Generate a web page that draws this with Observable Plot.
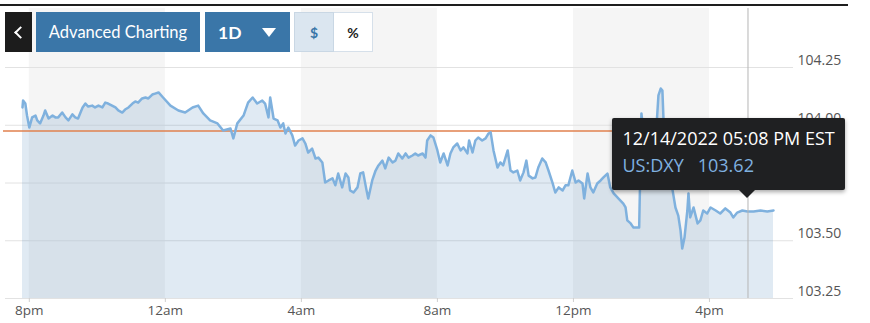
<!DOCTYPE html>
<html>
<head>
<meta charset="utf-8">
<script src="https://cdn.jsdelivr.net/npm/d3@7"></script>
<script src="https://cdn.jsdelivr.net/npm/@observablehq/plot@0.6"></script>
<style>
  html, body { margin: 0; padding: 0; background: #fff; }
  #wrap { position: relative; width: 870px; height: 323px; overflow: hidden; font-family: "Open Sans", sans-serif; }
  #chart { position: absolute; left: 0; top: 0; }
  .topline { position: absolute; left: 0; top: 4px; width: 848px; height: 2px; background: #1e1e1e; }
  .btn { position: absolute; top: 12px; height: 40px; box-sizing: border-box; display: flex; align-items: center; justify-content: center; font-family: Lato, sans-serif; font-size: 16.5px; color: #fff; }
  .back { left: 5px; width: 27px; background: #1c1c1c; }
  .back .chev { width: 7px; height: 7px; border-left: 2px solid #fff; border-bottom: 2px solid #fff; transform: rotate(45deg); margin-left: 4px; }
  .adv { left: 36px; width: 164px; background: #3a76a8; }
  .range { left: 205px; width: 85px; background: #3a76a8; font-weight: 700; font-size: 17.5px; justify-content: flex-start; padding-left: 13px; }
  .range .caret { position: absolute; left: 57px; top: 16px; width: 0; height: 0; border-left: 7px solid transparent; border-right: 7px solid transparent; border-top: 9px solid #fff; }
  .usd { left: 294px; width: 40px; background: #dbe6f0; border: 1px solid #c9d7e4; color: #3a76a8; font-weight: 700; font-size: 14px; }
  .pct { left: 334px; width: 39px; background: #fff; border: 1px solid #d6e0ea; border-left: none; color: #222; font-weight: 700; font-size: 14px; }
  #tip { position: absolute; top: 118px; width: 233px; height: 72px; background: #1f2022; box-shadow: 0 2px 4px rgba(0,0,0,0.35); border-radius: 2px; font-family: "Open Sans", sans-serif; }
  #tip .l1 { position: absolute; left: 10px; top: 8px; color: #fff; font-size: 18px; white-space: nowrap; }
  #tip .l2 { position: absolute; left: 10px; top: 35px; color: #7fb1e0; font-size: 18px; white-space: nowrap; }
  #tip .l2 span { margin-left: 14px; }
  #tip .arrow { position: absolute; bottom: -8px; width: 0; height: 0; border-left: 8px solid transparent; border-right: 8px solid transparent; border-top: 8px solid #1f2022; }
</style>
</head>
<body>
<div id="wrap">
  <div id="chart"></div>
  <div class="topline"></div>
  <div class="btn back"><div class="chev"></div></div>
  <div class="btn adv">Advanced Charting</div>
  <div class="btn range">1D<div class="caret"></div></div>
  <div class="btn usd">$</div>
  <div class="btn pct">%</div>
  <div id="tip"><div class="l1"></div><div class="l2"></div><div class="arrow"></div></div>
</div>
<script>
// ---- data (US:DXY, 1 day, 12/13/2022 evening to 12/14/2022) ----
const times = ["19:48","19:49","19:53","19:56","20:00","20:05","20:11","20:14","20:19","20:25","20:28","20:34","20:41","20:46","20:51","20:58","21:04","21:09","21:16","21:21","21:26","21:34","21:39","21:44","21:51","21:56","22:02","22:09","22:14","22:19","22:26","22:32","22:37","22:44","22:49","22:55","23:02","23:07","23:12","23:19","23:25","23:30","23:37","23:42","23:48","23:56","00:09","00:23","00:35","00:48","00:58","01:07","01:19","01:32","01:42","01:55","02:00","02:07","02:18","02:26","02:34","02:42","02:51","02:56","03:02","03:05","03:11","03:18","03:23","03:28","03:32","03:37","03:44","03:49","03:55","04:02","04:07","04:12","04:19","04:25","04:30","04:37","04:42","04:48","04:55","05:00","05:05","05:12","05:18","05:23","05:26","05:32","05:39","05:44","05:49","05:55","05:58","06:05","06:11","06:16","06:23","06:28","06:34","06:41","06:46","06:51","06:58","07:04","07:09","07:16","07:21","07:26","07:34","07:39","07:42","07:48","07:53","08:00","08:05","08:11","08:18","08:23","08:28","08:35","08:41","08:46","08:53","08:56","09:02","09:07","09:12","09:19","09:25","09:30","09:34","09:39","09:46","09:51","09:56","10:04","10:09","10:14","10:21","10:26","10:32","10:37","10:41","10:48","10:53","10:58","11:05","11:11","11:16","11:23","11:28","11:34","11:41","11:46","11:51","11:58","12:04","12:09","12:16","12:19","12:25","12:30","12:35","12:42","12:48","12:53","13:00","13:05","13:11","13:18","13:23","13:28","13:32","13:35","13:41","13:46","13:53","13:56","14:00","14:07","14:16","14:25","14:30","14:34","14:37","14:41","14:48","14:55","15:00","15:05","15:09","15:12","15:16","15:21","15:23","15:26","15:32","15:39","15:44","15:49","15:56","16:02","16:11","16:19","16:28","16:37","16:42","16:49","16:58","17:07","17:18","17:30","17:42","17:53"];
const prices = [104.077,104.107,104.094,104.042,103.990,104.034,104.042,104.021,104.008,104.042,104.064,104.029,104.042,104.034,104.034,104.055,104.034,104.021,104.047,104.034,104.029,104.077,104.094,104.081,104.085,104.077,104.085,104.077,104.098,104.094,104.085,104.077,104.064,104.055,104.068,104.077,104.094,104.103,104.098,104.116,104.120,104.116,104.133,104.137,104.142,104.120,104.085,104.064,104.055,104.077,104.085,104.051,104.021,104.008,103.977,103.986,103.943,104.008,104.042,104.098,104.120,104.094,104.107,104.094,104.034,104.120,104.029,104.021,103.990,104.008,103.964,103.990,103.956,103.912,103.934,103.943,103.921,103.882,103.899,103.856,103.860,103.839,103.752,103.761,103.770,103.740,103.791,103.731,103.791,103.774,103.718,103.709,103.731,103.791,103.796,103.718,103.683,103.761,103.804,103.826,103.847,103.813,103.860,103.839,103.847,103.878,103.856,103.878,103.860,103.869,103.878,103.869,103.878,103.860,103.934,103.956,103.947,103.891,103.839,103.878,103.826,103.878,103.904,103.921,103.891,103.904,103.878,103.934,103.882,103.934,103.947,103.934,103.943,103.964,103.969,103.891,103.817,103.839,103.826,103.891,103.804,103.796,103.804,103.761,103.796,103.847,103.782,103.770,103.774,103.817,103.856,103.839,103.804,103.752,103.709,103.731,103.718,103.740,103.740,103.804,103.752,103.761,103.748,103.683,103.791,103.731,103.709,103.748,103.761,103.774,103.791,103.731,103.705,103.687,103.674,103.661,103.644,103.588,103.575,103.557,103.557,103.557,104.051,103.891,103.912,103.934,104.129,104.159,104.150,103.891,103.782,103.718,103.644,103.609,103.544,103.466,103.514,103.631,103.705,103.601,103.644,103.575,103.588,103.631,103.618,103.644,103.631,103.618,103.640,103.622,103.601,103.622,103.631,103.627,103.627,103.631,103.627,103.631];
const previousClose = 103.975;
const yTicks = [103.25, 103.50, 103.75, 104.00, 104.25];
const xTickTimes = ["20:00","00:00","04:00","08:00","12:00","16:00"];
const xTickLabels = ["8pm","12am","4am","8am","12pm","4pm"];
const bandStarts = ["20:00","04:00","12:00"]; // shaded 4-hour sessions
const bandHours = 4;
const cursorTime = "17:08";
const cursorLabel = "12/14/2022 05:08 PM EST";
const cursorSymbol = "US:DXY";
const cursorValue = 103.62;

// ---- helpers ----
function toDate(t) {
  const [h, m] = t.split(":").map(Number);
  return new Date(Date.UTC(2022, 11, h >= 19 ? 13 : 14, h, m));
}
if (times.length !== prices.length) throw new Error("length mismatch " + times.length + " vs " + prices.length);
const data = times.map((t, i) => ({date: toDate(t), price: prices[i]}));
const bands = bandStarts.map(t => ({x1: toDate(t), x2: new Date(+toDate(t) + bandHours * 3600e3)}));
const xTicks = xTickTimes.map(toDate);
const labelOf = new Map(xTicks.map((d, i) => [+d, xTickLabels[i]]));
const yMin = d3.min(yTicks), yMax = d3.max(yTicks);
const cursorDate = toDate(cursorTime);

const chart = Plot.plot({
  width: 870,
  height: 323,
  marginLeft: 22,
  marginRight: 97,
  marginTop: 67,
  marginBottom: 25,
  x: {type: "utc", domain: [data[0].date, data[data.length - 1].date]},
  y: {domain: [yMin, yMax]},
  style: {background: "transparent", fontFamily: "'Open Sans', sans-serif", overflow: "visible"},
  marks: [
    Plot.rect(bands, {x1: "x1", x2: "x2", fill: "#f5f5f5", insetTop: -59}),
    Plot.ruleY(yTicks, {stroke: "#e2e2e2", strokeWidth: 1, insetLeft: -17, insetRight: -20}),
    Plot.area(data, {x1: "date", y1: () => yMin, y2: "price", fill: "#3c7cb4", fillOpacity: 0.16}),
    Plot.ruleY([previousClose], {stroke: "#e0814e", strokeWidth: 1.5, insetLeft: -19, insetRight: -20}),
    Plot.line(data, {x: "date", y: "price", stroke: "#7fb1de", strokeWidth: 2.5, strokeLinejoin: "round"}),
    Plot.ruleX([cursorDate], {stroke: "#b5b5b5", strokeWidth: 1, insetTop: -59}),
    Plot.axisX(xTicks, {tickSize: 4, tickPadding: 3, stroke: "#cfcfcf", fill: "#555", fontSize: 13.5, label: null,
      tickFormat: d => labelOf.get(+d)}),
    Plot.axisY(yTicks, {anchor: "right", tickSize: 0, tickPadding: 24, dy: -7, fill: "#555", fontSize: 14, label: null,
      tickFormat: d => d.toFixed(2)})
  ]
});
document.getElementById("chart").appendChild(chart);

// tooltip positioned from the x scale
const cx = chart.scale("x").apply(cursorDate);
const tip = document.getElementById("tip");
tip.style.left = (cx - 135) + "px";
tip.querySelector(".l1").textContent = cursorLabel;
tip.querySelector(".l2").innerHTML = cursorSymbol + "<span>" + cursorValue.toFixed(2) + "</span>";
tip.querySelector(".arrow").style.left = (135 - 8) + "px";
</script>
</body>
</html>
